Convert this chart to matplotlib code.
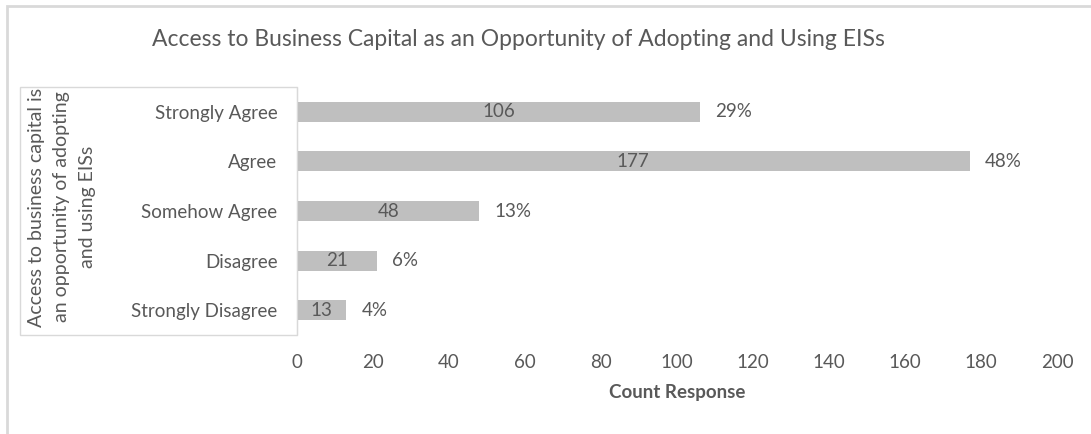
import matplotlib
matplotlib.use('Agg')
import matplotlib.pyplot as plt
from matplotlib.patches import Rectangle

plt.rcParams['font.family'] = ['Lato', 'DejaVu Sans']

# 数据
categories = ['Strongly Agree', 'Agree', 'Somehow Agree', 'Disagree', 'Strongly Disagree']
counts = [106, 177, 48, 21, 13]
percents = [29, 48, 13, 6, 4]
x_ticks = [0, 20, 40, 60, 80, 100, 120, 140, 160, 180, 200]

TEXT = '#595959'
BAR = '#BFBFBF'
BORDER = '#D9D9D9'

W, H = 1091, 434
fig = plt.figure(figsize=(W / 100, H / 100), dpi=100)

# 外框（左、上两条边）
fig.add_artist(Rectangle((7 / W, -0.1), 1.2, (H - 6) / H + 0.1, transform=fig.transFigure,
                         fill=False, edgecolor=BORDER, linewidth=2, zorder=-2))

# 纵轴标题背景框
fig.add_artist(Rectangle((20 / W, 1 - 335 / H), (297 - 20) / W, (335 - 87) / H,
                         transform=fig.transFigure, facecolor='white',
                         edgecolor=BORDER, linewidth=1, zorder=-1))

ax = fig.add_axes([297 / W, 1 - 335 / H, (1057 - 297) / W, (335 - 87) / H])
ax.set_facecolor('none')

y = list(range(len(categories)))
ax.barh(y, counts, height=0.4, color=BAR)

for yi, c, p in zip(y, counts, percents):
    ax.text(c / 2, yi, str(c), ha='center', va='center', fontsize=13.5, color=TEXT)
    ax.annotate(f'{p}%', (c, yi), xytext=(15, 0), textcoords='offset pixels',
                ha='left', va='center', fontsize=13.5, color=TEXT)

ax.set_xlim(0, 200)
ax.set_ylim(len(categories) - 0.5, -0.5)
ax.set_yticks(y)
ax.set_yticklabels(categories, fontsize=13.5, color=TEXT)
ax.set_xticks(x_ticks)
ax.set_xticklabels([str(t) for t in x_ticks], fontsize=13.5, color=TEXT)
ax.tick_params(axis='both', length=0)
ax.tick_params(axis='y', pad=14)
ax.tick_params(axis='x', pad=14)

for s in ['top', 'right', 'bottom']:
    ax.spines[s].set_visible(False)
ax.spines['left'].set_color(BORDER)

ax.set_xlabel('Count Response', fontsize=13.5, fontweight='bold', color=TEXT, labelpad=9)

fig.text(62 / W, 1 - 207 / H,
         'Access to business capital is\nan opportunity of adopting\nand using EISs',
         rotation=90, ha='center', va='center', multialignment='center',
         fontsize=14, color=TEXT, linespacing=1.6)

fig.text(518 / W, 1 - 40 / H,
         'Access to Business Capital as an Opportunity of Adopting and Using EISs',
         ha='center', va='center', fontsize=16.5, color=TEXT)

fig.savefig('out.png', dpi=100)
